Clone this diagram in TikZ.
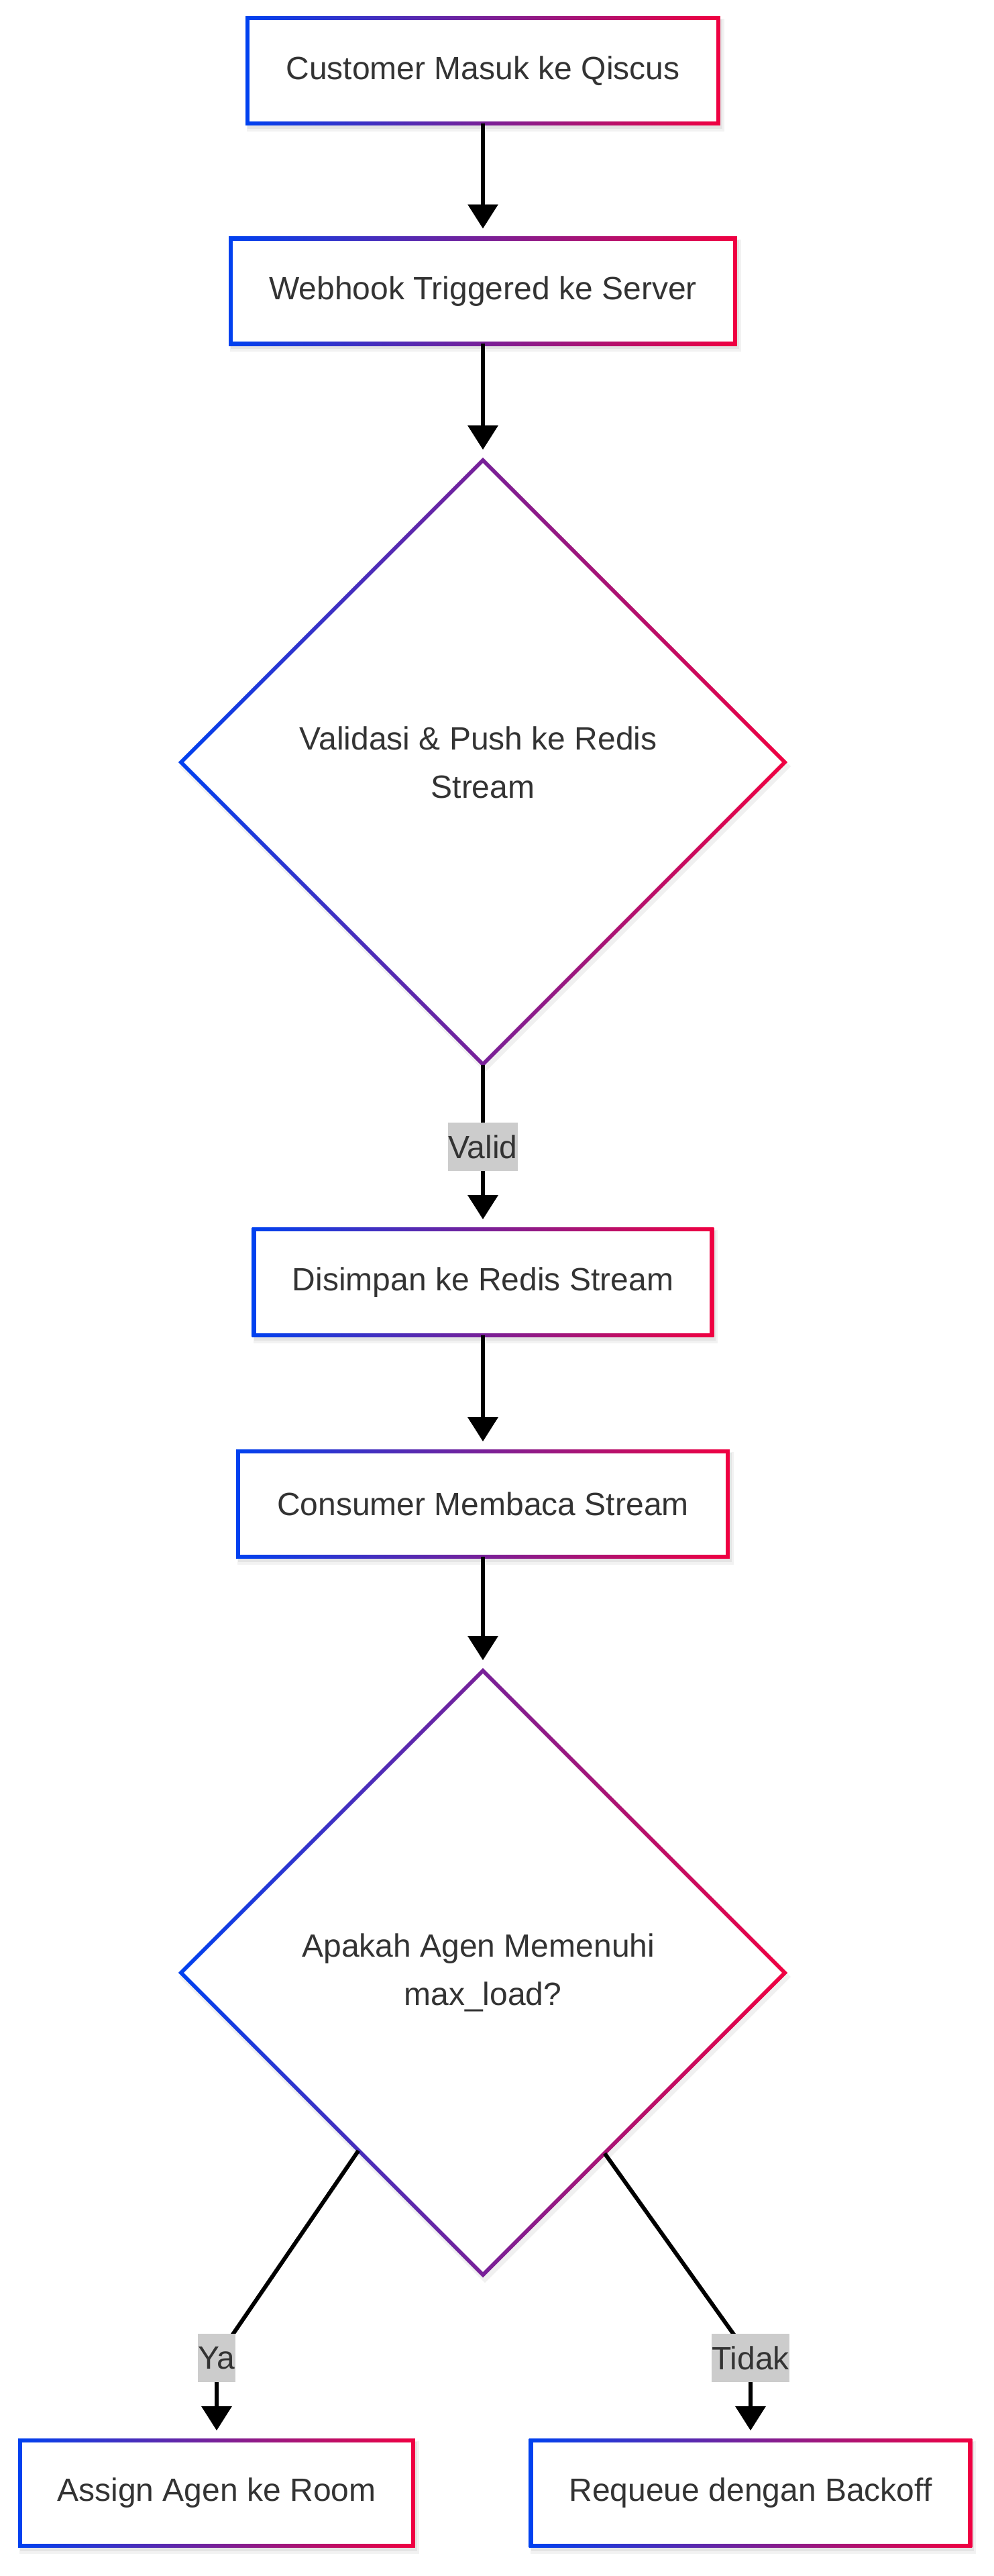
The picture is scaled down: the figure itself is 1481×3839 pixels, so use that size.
\documentclass[tikz,border=0pt]{standalone}
\usepackage{fontspec}
\setmainfont{Liberation Sans}
\usetikzlibrary{shapes.geometric,arrows.meta,calc}
\definecolor{gL}{RGB}{0,65,240}
\definecolor{gR}{RGB}{240,0,65}
\definecolor{txt}{HTML}{333333}
\definecolor{lblbg}{HTML}{CCCCCC}
\pgfdeclarelayer{bg}
\pgfdeclarelayer{edges}
\pgfsetlayers{bg,edges,main}
\newcommand\gradrect[1]{%
  \fill[black,opacity=0.05] ($(#1.north west)+(-1,1)$) rectangle ($(#1.south east)+(9,12)$);
  \fill[black,opacity=0.06] ($(#1.north west)+(0,2)$) rectangle ($(#1.south east)+(6,8)$);
  \shade[left color=gL,right color=gR] ($(#1.north west)+(-3,-3)$) rectangle ($(#1.south east)+(3,3)$);
  \fill[white] ($(#1.north west)+(3,3)$) rectangle ($(#1.south east)+(-3,-3)$);}
\newcommand\graddiam[1]{%
  \fill[black,opacity=0.06] ($(#1.center)+(3,-452)$) -- ($(#1.center)+(459,6)$) -- ($(#1.center)+(3,462)$) -- ($(#1.center)+(-453,6)$) -- cycle;
  \shade[left color=gL,right color=gR] ($(#1.center)+(0,-454.2)$) -- ($(#1.center)+(454.2,0)$) -- ($(#1.center)+(0,454.2)$) -- ($(#1.center)+(-454.2,0)$) -- cycle;
  \fill[white] ($(#1.center)+(0,-445.8)$) -- ($(#1.center)+(445.8,0)$) -- ($(#1.center)+(0,445.8)$) -- ($(#1.center)+(-445.8,0)$) -- cycle;}
\newcommand\trsp{\hbox to 3.33pt{}}
\tikzset{
  base/.style={font=\fontsize{12pt}{18pt}\selectfont, text=txt, inner sep=0pt},
  boxn/.style={base, rectangle, minimum height=38.75pt},
  diam/.style={base, diamond, minimum width=225pt, minimum height=225pt, align=center},
  lbl/.style={base, fill=lblbg, minimum height=18pt, inner xsep=0pt},
  edge/.style={line width=1.5pt, draw=black, -{Triangle[width=11pt,length=9pt]}, shorten >=3.75pt},
}
\begin{document}
\begin{tikzpicture}[x=0.25pt,y=-0.25pt]
\useasboundingbox (0,0) rectangle (1481,3839);
\node[boxn, minimum width=175pt] (b1) at (720,105.5) {Customer Masuk ke Qiscus};
\node[boxn, minimum width=187.5pt] (b2) at (720,434) {Webhook Triggered ke Server};
\node[diam] (d1) at (720,1136) {Validasi \& Push ke Redis\trsp\\Stream};
\node[lbl] (lv) at (720,1709) {Valid};
\node[boxn, minimum width=170.25pt, minimum height=39pt] (b3) at (720,1911) {Disimpan ke Redis Stream};
\node[boxn, minimum width=182pt] (b4) at (720,2241.5) {Consumer Membaca Stream};
\node[diam] (d2) at (720,2940) {Apakah Agen Memenuhi\trsp\\max\_load?};
\node[lbl] (ya) at (323,3514) {Ya};
\node[lbl] (td) at (1119,3514) {Tidak};
\node[boxn, minimum width=146pt] (b5) at (323,3715.5) {Assign Agen ke Room};
\node[boxn, minimum width=163.25pt] (b6) at (1119,3715.5) {Requeue dengan Backoff};
\begin{pgfonlayer}{bg}
  \gradrect{b1}\gradrect{b2}\gradrect{b3}\gradrect{b4}\gradrect{b5}\gradrect{b6}
  \graddiam{d1}\graddiam{d2}
\end{pgfonlayer}
\begin{pgfonlayer}{edges}
  \draw[edge] (b1.south) -- (b2.north);
  \draw[edge] (b2.south) -- (d1.north);
  \draw[edge] (d1.south) -- (b3.north);
  \draw[edge] (b3.south) -- (b4.north);
  \draw[edge] (b4.south) -- (d2.north);
  \draw[edge] (d2.235.5) -- (ya.center) -- (b5.north);
  \draw[edge] (d2.304.5) -- (td.center) -- (b6.north);
\end{pgfonlayer}
\end{tikzpicture}
\end{document}
